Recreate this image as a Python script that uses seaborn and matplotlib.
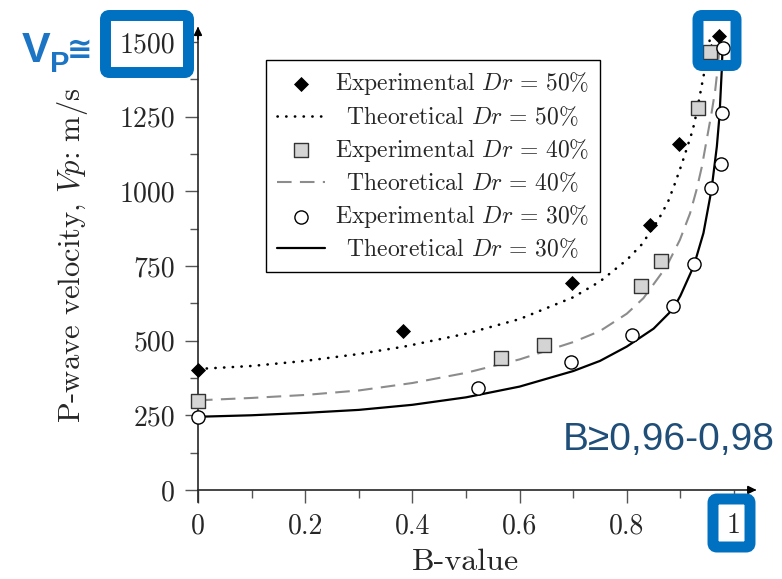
import matplotlib
matplotlib.use('Agg')
import matplotlib.pyplot as plt
from matplotlib.patches import FancyBboxPatch
import seaborn as sns

# experimental points (B-value, Vp in m/s)
exp50_b = [0, 0.382, 0.698, 0.843, 0.897, 0.958, 0.972]
exp50_v = [400, 532, 693, 887, 1158, 1470, 1520]
exp40_b = [0, 0.565, 0.646, 0.826, 0.863, 0.932, 0.955]
exp40_v = [299, 442, 485, 683, 767, 1280, 1467]
exp30_b = [0, 0.522, 0.696, 0.810, 0.886, 0.925, 0.958, 0.976, 0.977, 0.980]
exp30_v = [245, 341, 428, 519, 616, 755, 1010, 1090, 1261, 1480]

# theoretical curves
theo50_b = [0, 0.1, 0.2, 0.3, 0.385, 0.5, 0.6, 0.7, 0.75, 0.8, 0.828,
            0.859, 0.877, 0.890, 0.902, 0.913, 0.923, 0.930, 0.940, 0.948, 0.955]
theo50_v = [405, 415, 432, 455, 480, 523, 572, 645, 698, 770, 822,
            905, 965, 1027, 1088, 1149, 1205, 1261, 1356, 1430, 1510]
theo40_b = [0, 0.1, 0.2, 0.3, 0.4, 0.5, 0.6, 0.7, 0.75, 0.8, 0.831,
            0.874, 0.899, 0.918, 0.930, 0.940, 0.949, 0.958, 0.965, 0.970, 0.974]
theo40_v = [300, 308, 318, 333, 358, 392, 437, 495, 532, 590, 642,
            748, 837, 926, 1004, 1082, 1172, 1261, 1339, 1420, 1505]
theo30_b = [0, 0.1, 0.2, 0.3, 0.4, 0.5, 0.6, 0.7, 0.75, 0.8, 0.85, 0.886, 0.9,
            0.925, 0.943, 0.958, 0.968, 0.973, 0.977, 0.979]
theo30_v = [245, 250, 258, 268, 285, 310, 346, 398, 432, 480, 540, 605, 650,
            750, 860, 1005, 1150, 1255, 1400, 1496]

x_ticks = [0, 0.2, 0.4, 0.6, 0.8, 1]
x_labels = ['0', '0.2', '0.4', '0.6', '0.8', '1']
y_ticks = [0, 250, 500, 750, 1000, 1250, 1500]

sns.set_style('ticks')
plt.rcParams['font.family'] = 'serif'
plt.rcParams['font.serif'] = ['cmr10']
plt.rcParams['mathtext.fontset'] = 'cm'
plt.rcParams['axes.unicode_minus'] = False

fig = plt.figure(figsize=(7.82, 5.79), dpi=100)
ax = fig.add_axes([0.2189, 0.1306, 0.754, 0.828])

lab_t50 = r'$\;\;$Theoretical $Dr\,=\,50\%$'
lab_t40 = r'$\;\;$Theoretical $Dr\,=\,40\%$'
lab_t30 = r'$\;\;$Theoretical $Dr\,=\,30\%$'
lab_e50 = r'Experimental $Dr\,=\,50\%$'
lab_e40 = r'Experimental $Dr\,=\,40\%$'
lab_e30 = r'Experimental $Dr\,=\,30\%$'

sns.lineplot(x=theo50_b, y=theo50_v, ax=ax, color='black', lw=1.9,
             linestyle=(0, (0.1, 3.2)), dash_capstyle='round', sort=False,
             estimator=None, label=lab_t50)
sns.lineplot(x=theo40_b, y=theo40_v, ax=ax, color='#8c8c8c', lw=1.5,
             linestyle=(0, (7, 4)), sort=False, estimator=None, label=lab_t40)
sns.lineplot(x=theo30_b, y=theo30_v, ax=ax, color='black', lw=1.6,
             sort=False, estimator=None, label=lab_t30)

sns.scatterplot(x=exp50_b, y=exp50_v, ax=ax, marker='D', s=50, color='black',
                edgecolor='black', linewidth=0.6, zorder=5, label=lab_e50)
sns.scatterplot(x=exp40_b, y=exp40_v, ax=ax, marker='s', s=90, color='#d4d4d4',
                edgecolor='#333333', linewidth=1.0, zorder=5, label=lab_e40)
sns.scatterplot(x=exp30_b, y=exp30_v, ax=ax, marker='o', s=90, color='white',
                edgecolor='black', linewidth=1.0, zorder=5, label=lab_e30)

ax.set_xlim(-0.05, 1.05)
ax.set_ylim(-45, 1560)

# axes through the origin with arrow heads
for side in ['top', 'right']:
    ax.spines[side].set_visible(False)
ax.spines['left'].set_position(('data', 0))
ax.spines['bottom'].set_position(('data', 0))
ax.spines['left'].set_bounds(-40, 1545)
ax.spines['bottom'].set_bounds(0, 1.04)
ax.spines['left'].set_linewidth(1.2)
ax.spines['bottom'].set_linewidth(1.2)
ax.annotate('', xy=(1.047, 0), xytext=(1.02, 0),
            arrowprops=dict(arrowstyle='-|>', color='black', lw=1.2, mutation_scale=12))
ax.annotate('', xy=(0, 1560), xytext=(0, 1500),
            arrowprops=dict(arrowstyle='-|>', color='black', lw=1.2, mutation_scale=12))

ax.set_xticks(x_ticks)
ax.set_xticklabels(x_labels)
ax.set_yticks(y_ticks)
ax.set_xticks([0.1, 0.3, 0.5, 0.7, 0.9], minor=True)
ax.set_yticks([125, 375, 625, 875, 1125, 1375], minor=True)
ax.tick_params(which='major', length=9.5, width=1, color='#555555', pad=7, labelsize=20)
ax.tick_params(which='minor', length=6, width=1, color='#555555')

ax.set_xlabel('B-value', fontsize=23)
ax.xaxis.set_label_coords(0.5, -0.094)
ax.set_ylabel('P-wave velocity, $Vp$: m/s', fontsize=22)
ax.yaxis.set_label_coords(-0.138, 0.518)

handles, labels = ax.get_legend_handles_labels()
lookup = dict(zip(labels, handles))
order = [lab_e50, lab_t50, lab_e40, lab_t40, lab_e30, lab_t30]
leg = ax.legend([lookup[k] for k in order], order, loc='upper left',
                bbox_to_anchor=(0.1615, 0.9255), borderaxespad=0, fancybox=False,
                edgecolor='black', framealpha=1, fontsize=17, handlelength=2.05,
                labelspacing=0.33, handletextpad=0.4, borderpad=0.45, scatterpoints=1)
leg.get_frame().set_linewidth(1.0)

# blue highlight boxes (pixel coordinates, y from the top)
def px_box(x0, y0, x1, y1):
    box = FancyBboxPatch((x0 / 100, (579 - y1) / 100), (x1 - x0) / 100, (y1 - y0) / 100,
                         boxstyle='round,pad=0,rounding_size=0.04',
                         transform=fig.dpi_scale_trans, facecolor='none',
                         edgecolor='#0070C0', linewidth=7.9, zorder=10)
    fig.add_artist(box)

px_box(105.5, 15.5, 188.5, 72.5)
px_box(698, 15.5, 736, 65.5)
px_box(713, 499, 750, 547)

sans = ['Liberation Sans', 'DejaVu Sans']
fig.text(22 / 782, 1 - 62 / 579, 'V', fontsize=31, fontweight='bold', color='#1C74C4',
         family=sans, va='baseline', ha='left')
fig.text(50 / 782, 1 - 72 / 579, 'P', fontsize=21, fontweight='bold', color='#1C74C4',
         family=sans, va='baseline', ha='left')
fig.text(67 / 782, 1 - 50 / 579, '≅', fontsize=22, fontweight='bold', color='#1C74C4',
         family=['DejaVu Sans'], va='center', ha='left')
fig.text(563 / 782, 1 - 450 / 579, 'B≥0,96-0,98', fontsize=28, color='#1F4E79',
         family=sans, va='baseline', ha='left')

fig.savefig('out.png', dpi=100)
